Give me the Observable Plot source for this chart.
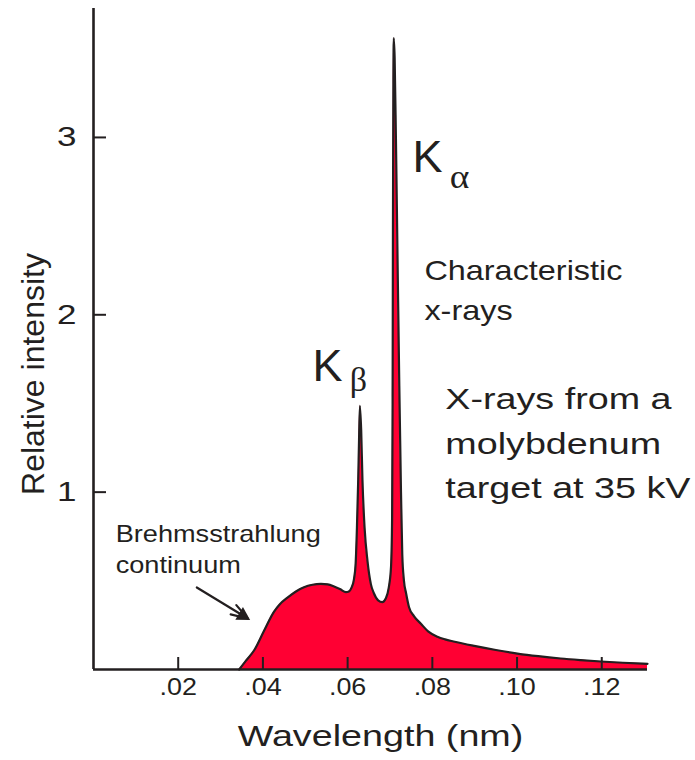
<!DOCTYPE html>
<html><head><meta charset="utf-8">
<script src="https://cdn.jsdelivr.net/npm/d3@7"></script>
<script src="https://cdn.jsdelivr.net/npm/@observablehq/plot@0.6"></script>
<style>
html,body{margin:0;padding:0;background:#fff;}
#chart svg{display:block;}
</style></head><body><div id="chart"></div>
<script>
// Spectrum of X-rays from a molybdenum target at 35 kV
const wavelength = [0.0344, 0.0360, 0.0379, 0.0403, 0.0426, 0.0440, 0.0458, 0.0478, 0.0497, 0.0517, 0.0537, 0.0553, 0.0568, 0.0583, 0.0596, 0.0603, 0.0609, 0.0615, 0.0619, 0.0622, 0.0625, 0.0627, 0.0629, 0.0632, 0.0635, 0.0640, 0.0647, 0.0655, 0.0662, 0.0672, 0.0682, 0.0690, 0.0697, 0.07025, 0.0705, 0.07062, 0.07070, 0.07080, 0.07089, 0.07110, 0.07140, 0.07185, 0.0722, 0.0726, 0.0729, 0.0733, 0.0738, 0.0745, 0.0757, 0.0773, 0.0790, 0.0812, 0.0830, 0.0850, 0.0899, 0.0950, 0.1001, 0.1050, 0.1103, 0.1150, 0.1198, 0.1250, 0.1308];
const intensity = [0, 0.05, 0.107, 0.22, 0.325, 0.368, 0.405, 0.44, 0.464, 0.478, 0.483, 0.480, 0.468, 0.452, 0.436, 0.44, 0.46, 0.51, 0.60, 0.80, 1.07, 1.30, 1.487, 1.35, 1.07, 0.80, 0.61, 0.48, 0.43, 0.39, 0.38, 0.40, 0.46, 0.58, 0.85, 1.5, 2.5, 3.3, 3.56, 3.45, 3.0, 2.2, 1.6, 1.0, 0.65, 0.50, 0.43, 0.351, 0.30, 0.258, 0.215, 0.185, 0.170, 0.158, 0.133, 0.110, 0.090, 0.075, 0.062, 0.053, 0.045, 0.038, 0.032];

const xTicks = [0.02, 0.04, 0.06, 0.08, 0.10, 0.12];
const xTickLabels = [".02", ".04", ".06", ".08", ".10", ".12"];
const yTicks = [1, 2, 3];
const yTickLabels = ["1", "2", "3"];
const xDomain = [0, 0.1308];
const yDomain = [0, 3.727];
const xTitle = "Wavelength (nm)";
const yTitle = "Relative intensity";

// Peak labels: letter + subscript, anchored in data units
const peakLetters = ["K", "K"];
const peakLetterX = [0.07529, 0.05168];
const peakLetterY = [2.8027, 1.6258];
const peakSubs = ["α", "β"];
const peakSubX = [0.08412, 0.06051];
const peakSubY = [2.7124, 1.5677];

// Text notes
const noteTexts = ["Characteristic\nx-rays", "X-rays from a\nmolybdenum\ntarget at 35 kV", "Brehmsstrahlung\ncontinuum"];
const noteX = [0.07813, 0.08306, 0.00524];
const noteY = [1.972, 0.9643, 0.5414];

// Arrow pointing at the continuum
const arrowFrom = [0.02439, 0.4624];
const arrowTo = [0.03643, 0.2876];

const ink = "#231f20";
const spectrum = wavelength.map((w, i) => ({wavelength: w, intensity: intensity[i]}));
const peaks = peakLetters.map((t, i) => ({t, x: peakLetterX[i], y: peakLetterY[i]}));
const subs = peakSubs.map((t, i) => ({t, x: peakSubX[i], y: peakSubY[i]}));
const notes = noteTexts.map((t, i) => ({t, x: noteX[i], y: noteY[i]}));
const arrows = [{x1: arrowFrom[0], y1: arrowFrom[1], x2: arrowTo[0], y2: arrowTo[1]}];
const arrowTips = [{x: arrowTo[0], y: arrowTo[1]}];

const chart = Plot.plot({
  width: 695, height: 760,
  marginLeft: 93, marginRight: 48, marginTop: 8, marginBottom: 91,
  x: {domain: xDomain},
  y: {domain: yDomain},
  style: {fontFamily: "'Liberation Sans', Arial, Helvetica, sans-serif", color: ink, background: "#fff", overflow: "visible"},
  marks: [
    Plot.areaY(spectrum, {x: "wavelength", y: "intensity", fill: "#ff0033", curve: "monotone-x"}),
    Plot.lineY(spectrum, {x: "wavelength", y: "intensity", stroke: ink, strokeWidth: 2.2, curve: "monotone-x"}),
    Plot.ruleX([0], {stroke: ink, strokeWidth: 2.6}),
    Plot.ruleY([0], {stroke: ink, strokeWidth: 2.6}),
    Plot.axisX({ticks: xTicks, tickFormat: d => xTickLabels[xTicks.indexOf(d)], tickSize: -12, tickPadding: 21, fontSize: 23, strokeWidth: 2, label: null}),
    Plot.axisY({ticks: yTicks, tickFormat: d => yTickLabels[yTicks.indexOf(d)], tickSize: -13, tickPadding: 30, fontSize: 28, strokeWidth: 2, label: null}),
    Plot.text([xTitle], {text: d => d, frameAnchor: "bottom", textAnchor: "middle", lineAnchor: "bottom", dx: 10, dy: 76, fontSize: 29, fill: ink}),
    Plot.text([yTitle], {text: d => d, frameAnchor: "left", textAnchor: "middle", lineAnchor: "bottom", rotate: -90, dx: -50, dy: 35, fontSize: 32, fill: ink}),
    Plot.text(peaks, {x: "x", y: "y", text: "t", textAnchor: "start", lineAnchor: "bottom", fontSize: 45, fill: ink}),
    Plot.text(subs, {x: "x", y: "y", text: "t", textAnchor: "start", lineAnchor: "bottom", fontSize: 34, fontFamily: "'Liberation Serif', 'Times New Roman', serif", fill: ink}),
    Plot.text(notes.slice(0, 1), {x: "x", y: "y", text: "t", textAnchor: "start", lineAnchor: "bottom", fontSize: 27, lineHeight: 1.48, fill: ink}),
    Plot.text(notes.slice(1, 2), {x: "x", y: "y", text: "t", textAnchor: "start", lineAnchor: "bottom", fontSize: 29, lineHeight: 1.55, fill: ink}),
    Plot.text(notes.slice(2, 3), {x: "x", y: "y", text: "t", textAnchor: "start", lineAnchor: "bottom", fontSize: 23, lineHeight: 1.39, fill: ink}),
    Plot.arrow(arrows, {x1: "x1", y1: "y1", x2: "x2", y2: "y2", stroke: ink, strokeWidth: 2.2, headLength: 12, headAngle: 36}),
    Plot.dot(arrowTips, {x: "x", y: "y", symbol: "triangle", r: 5.5, fill: ink, rotate: 121, dx: -5, dy: -3})
  ]
});

// horizontal stretch of the lettering, as in the reference artwork
const stretchOf = new Map();
stretchOf.set(xTitle, 1.3);
stretchOf.set("α", 1.1);
stretchOf.set(noteTexts[0].replace(/\n/g, ""), 1.2);
stretchOf.set(noteTexts[1].replace(/\n/g, ""), 1.3);
stretchOf.set(noteTexts[2].replace(/\n/g, ""), 1.18);
function stretchText(t, s) {
  let tr = t.getAttribute("transform");
  if (!tr) {
    const x = +t.getAttribute("x") || 0;
    const yAttr = t.getAttribute("y");
    const y = yAttr && !/em$/.test(yAttr) ? +yAttr : 0;
    tr = `translate(${x},${y})`;
    t.removeAttribute("x");
    if (yAttr && !/em$/.test(yAttr)) t.removeAttribute("y");
  }
  t.setAttribute("transform", tr + ` scale(${s},1)`);
}
chart.querySelectorAll("g").forEach(g => {
  const label = g.getAttribute("aria-label") || "";
  if (!/tick label/.test(label)) return;
  const s = /^y/.test(label) ? 1.25 : 1.17;
  g.querySelectorAll("text").forEach(t => { t.dataset.done = "1"; stretchText(t, s); });
});
chart.querySelectorAll("text").forEach(t => {
  if (t.dataset.done) return;
  const s = stretchOf.get(t.textContent);
  if (s) stretchText(t, s);
});
document.getElementById("chart").appendChild(chart);
</script>
</body></html>
